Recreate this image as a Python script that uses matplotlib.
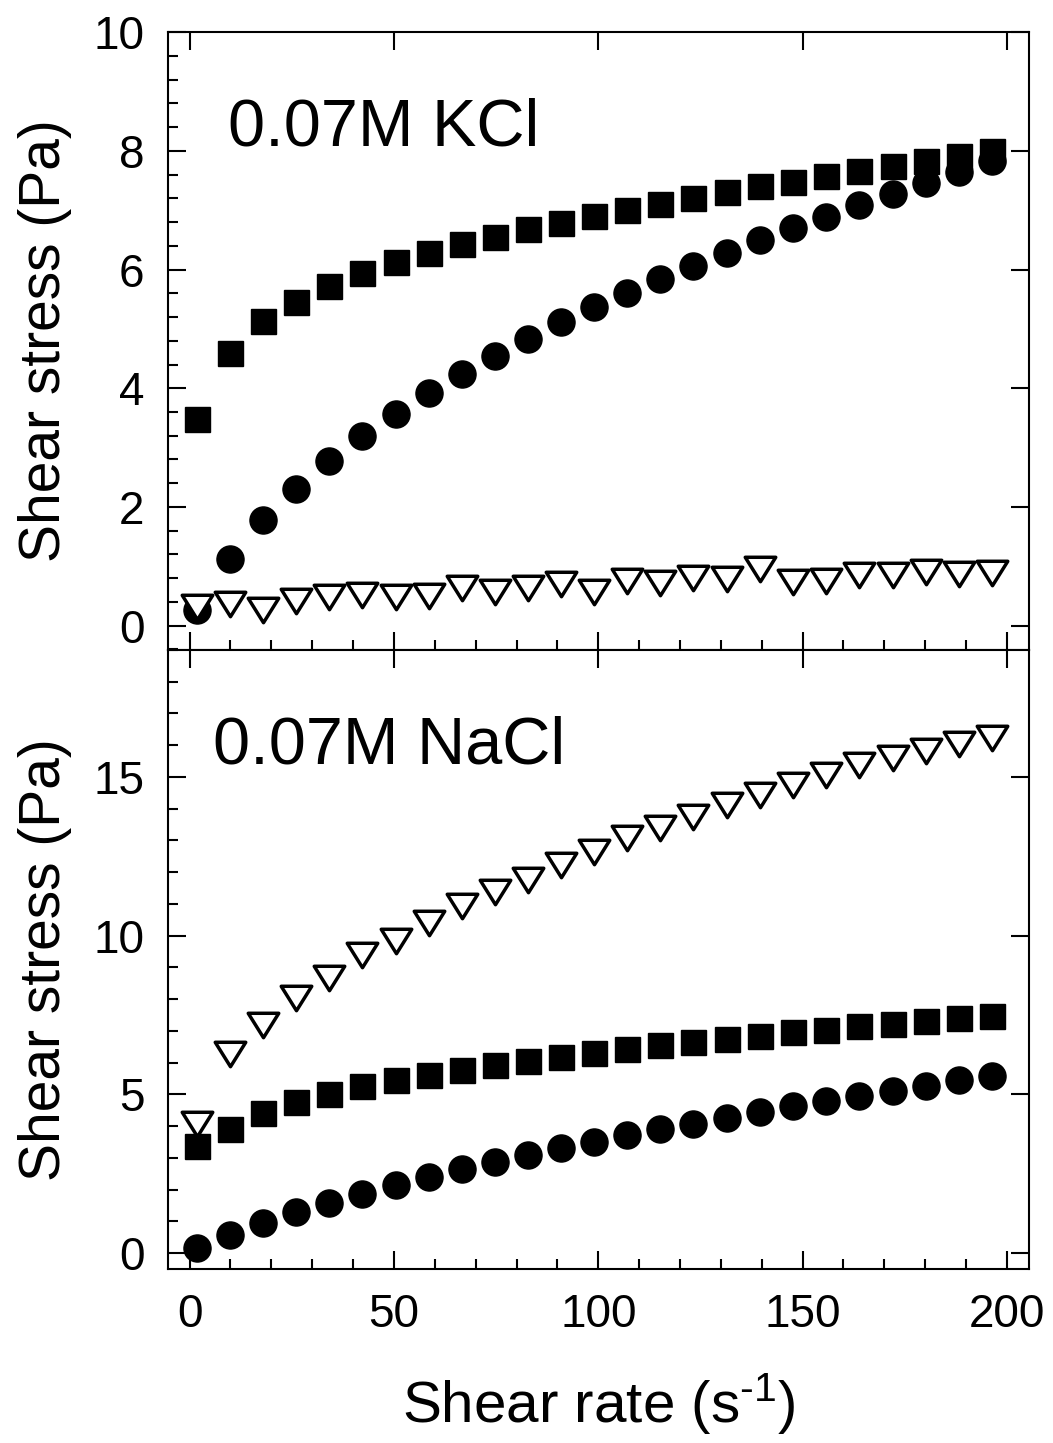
import matplotlib
matplotlib.use('Agg')
import matplotlib.pyplot as plt
from matplotlib.path import Path
from matplotlib.ticker import MultipleLocator

plt.rcParams['font.family'] = ['Liberation Sans', 'DejaVu Sans']
plt.rcParams['mathtext.fontset'] = 'custom'
plt.rcParams['mathtext.rm'] = 'Liberation Sans'
plt.rcParams['mathtext.it'] = 'Liberation Sans'

# Shear rate (s^-1), same for every series
shear_rate = [1.7, 9.8, 17.9, 26.0, 34.2, 42.3, 50.4, 58.5, 66.6, 74.7, 82.8, 90.9, 99.0,
              107.1, 115.2, 123.3, 131.4, 139.5, 147.7, 155.8, 163.9, 172.0, 180.1, 188.2, 196.3]

# 0.07M KCl panel
kcl_square = [3.48, 4.59, 5.14, 5.46, 5.73, 5.94, 6.12, 6.28, 6.43, 6.55, 6.68, 6.79, 6.90,
              7.01, 7.11, 7.21, 7.31, 7.41, 7.48, 7.57, 7.66, 7.75, 7.83, 7.91, 8.00]
kcl_circle = [0.27, 1.13, 1.78, 2.31, 2.78, 3.20, 3.57, 3.92, 4.24, 4.54, 4.83, 5.12, 5.37,
              5.60, 5.84, 6.06, 6.28, 6.50, 6.70, 6.89, 7.09, 7.28, 7.46, 7.64, 7.82]
kcl_triangle = [0.32, 0.37, 0.26, 0.42, 0.48, 0.51, 0.49, 0.50, 0.63, 0.56, 0.64, 0.70, 0.56,
                0.75, 0.72, 0.81, 0.79, 0.95, 0.73, 0.75, 0.85, 0.86, 0.90, 0.87, 0.88]

# 0.07M NaCl panel
nacl_square = [3.37, 3.90, 4.40, 4.75, 5.02, 5.25, 5.44, 5.61, 5.77, 5.93, 6.05, 6.19, 6.31,
               6.43, 6.54, 6.64, 6.75, 6.85, 6.95, 7.04, 7.14, 7.22, 7.30, 7.40, 7.47]
nacl_circle = [0.15, 0.57, 0.95, 1.29, 1.59, 1.87, 2.14, 2.41, 2.64, 2.88, 3.09, 3.32, 3.51,
               3.71, 3.90, 4.08, 4.27, 4.45, 4.62, 4.79, 4.95, 5.12, 5.27, 5.44, 5.58]
nacl_triangle = [4.08, 6.27, 7.18, 8.03, 8.68, 9.38, 9.83, 10.41, 10.92, 11.36, 11.75, 12.24, 12.62,
                 13.06, 13.40, 13.74, 14.13, 14.44, 14.76, 15.07, 15.39, 15.60, 15.81, 16.04, 16.23]

# wide, flat down-pointing triangle
tri = Path([(-1, 0.8), (1, 0.8), (0, -0.8), (-1, 0.8)],
           [Path.MOVETO, Path.LINETO, Path.LINETO, Path.CLOSEPOLY])

fig = plt.figure(figsize=(10.53, 14.43), dpi=100)
ax1 = fig.add_axes([0.1595, 0.5495, 0.8177, 0.4283])
ax2 = fig.add_axes([0.1595, 0.1206, 0.8177, 0.4290])


def draw_panel(ax, sq, ci, tr):
    ax.plot(shear_rate, sq, ls='none', marker='s', ms=18, mfc='black', mec='black', mew=1)
    ax.plot(shear_rate, ci, ls='none', marker='o', ms=19.5, mfc='black', mec='black', mew=1)
    ax.plot(shear_rate, tr, ls='none', marker=tri, ms=22, mfc='white', mec='black',
            mew=2.5)
    ax.set_xlim(-5.3, 205.4)
    ax.xaxis.set_major_locator(MultipleLocator(50))
    ax.xaxis.set_minor_locator(MultipleLocator(10))
    for s in ax.spines.values():
        s.set_linewidth(1.5)
    ax.tick_params(which='both', direction='in', width=1.5, labelsize=33, pad=17,
                   top=True, right=True)
    ax.tick_params(which='major', length=13)
    ax.tick_params(which='minor', length=7.5, top=False, right=False)
    ax.set_ylabel('Shear stress (Pa)', fontsize=41)
    ax.yaxis.set_label_coords(-0.111, 0.5)


draw_panel(ax1, kcl_square, kcl_circle, kcl_triangle)
ax1.set_ylim(-0.41, 10)
ax1.yaxis.set_major_locator(MultipleLocator(2))
ax1.yaxis.set_minor_locator(MultipleLocator(0.4))
ax1.tick_params(labelbottom=False)
ax1.text(0.0697, 0.817, '0.07M KCl', transform=ax1.transAxes, fontsize=48,
         ha='left', va='baseline')

draw_panel(ax2, nacl_square, nacl_circle, nacl_triangle)
ax2.set_ylim(-0.5, 19)
ax2.yaxis.set_major_locator(MultipleLocator(5))
ax2.yaxis.set_minor_locator(MultipleLocator(1))
ax2.text(0.0526, 0.816, '0.07M NaCl', transform=ax2.transAxes, fontsize=48,
         ha='left', va='baseline')
ax2.set_xlabel(r'Shear rate (s$^{\text{-1}}$)', fontsize=42, labelpad=25)

fig.savefig('out.png', dpi=100)
